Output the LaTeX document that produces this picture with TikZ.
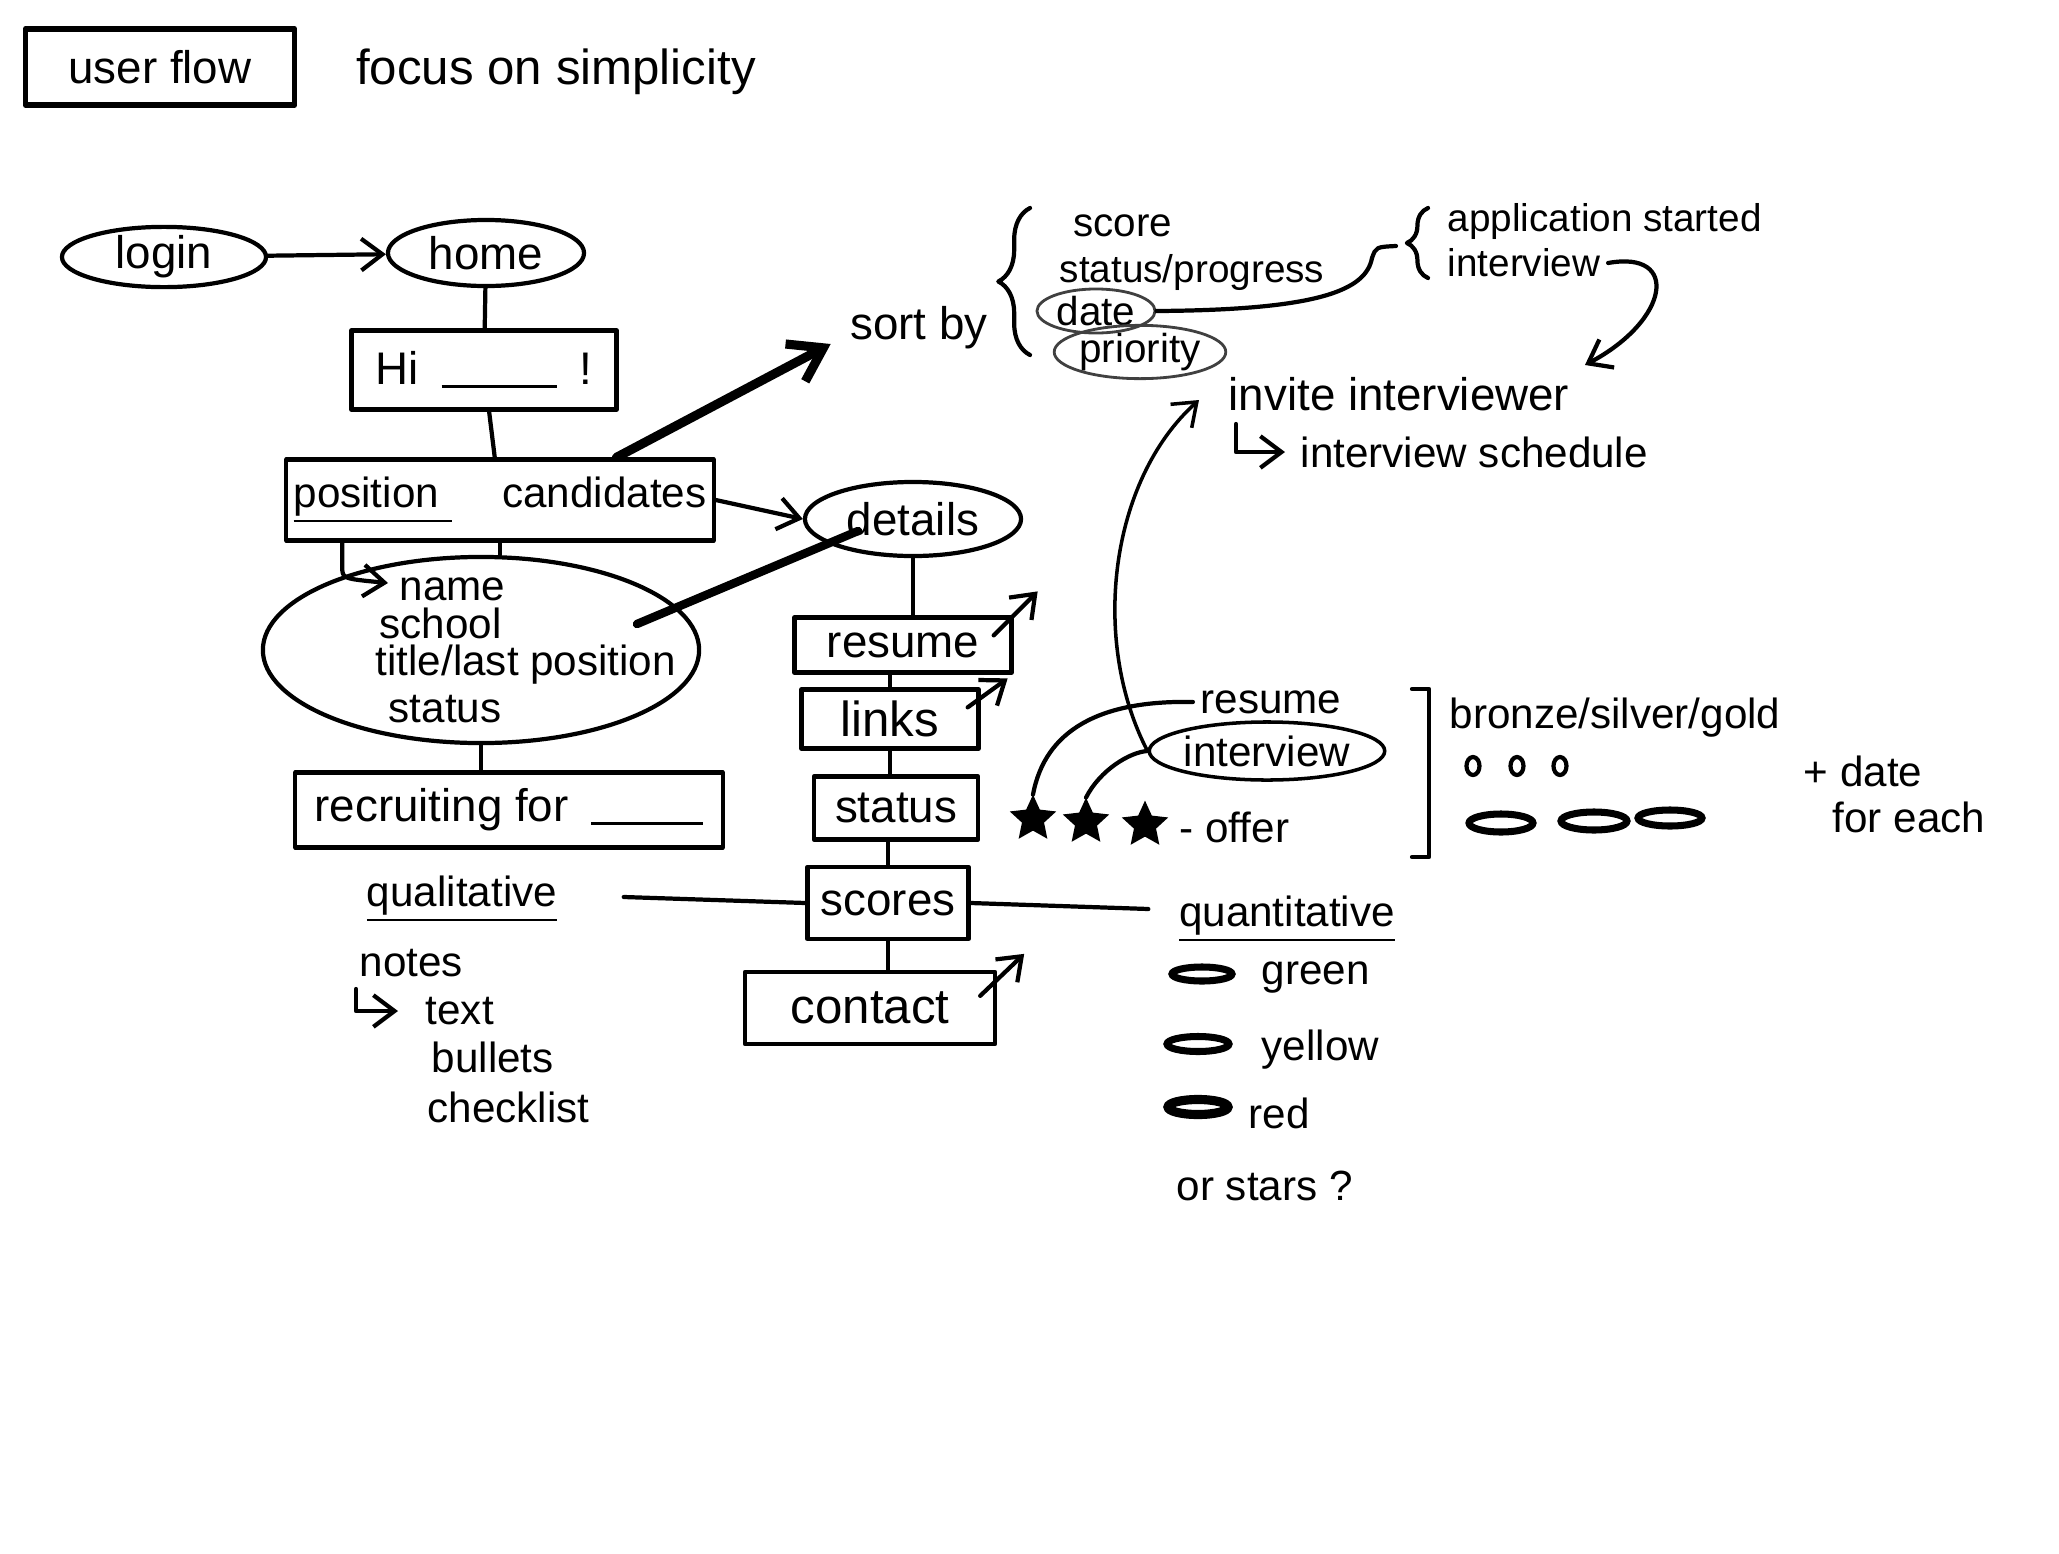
\documentclass[tikz,border=0pt]{standalone}
\usepackage{fontspec}
\setmainfont{Liberation Sans}
\usetikzlibrary{arrows.meta,shapes.geometric,calc,decorations.pathreplacing}
\begin{document}
\begin{tikzpicture}[x=0.01cm,y=-0.01cm,
  every node/.style={font=\fontsize{12}{14}\selectfont, inner sep=2pt},
  fs/.style={font=\fontsize{#1}{#1}\selectfont},
  ink/.style={line width=1.2pt,line cap=round,line join=round},
  box/.style={draw,ink,rectangle,inner sep=0pt},
  oval/.style={draw,ink,ellipse,inner sep=0pt},
  faint/.style={draw=black!75,line width=0.8pt,ellipse,inner sep=0pt},
  barb/.style={ink,-{Straight Barb[length=6pt,width=9pt]}},
  heavy/.style={line width=2.6pt,line cap=round,-{Straight Barb[length=9pt,width=12pt]}},
  heavyline/.style={line width=2.4pt,line cap=round},
  pill/.style={draw,ellipse,line width=2pt,inner sep=0pt},
  dot/.style={draw,ellipse,ink,minimum width=0.13cm,minimum height=0.18cm,inner sep=0pt},
  starmark/.style={star,star points=5,star point ratio=2.1,fill=black,draw,line width=0.8pt,minimum size=0.42cm,inner sep=0pt}]

\useasboundingbox (0,0) rectangle (2059,1554);

% title
\node[box, line width=1.6pt, minimum width=2.69cm, minimum height=0.76cm, fs=13] (title) at (160,67) {user flow};
\node[fs=14] (focus) at (556,72) {focus on simplicity};

% top flow
\node[oval, minimum width=2.04cm, minimum height=0.58cm, fs=13] (login) at (164,257) {login};
\node[oval, minimum width=1.96cm, minimum height=0.66cm, fs=13] (home) at (486,253) {home};
\draw[barb] (login) -- (home);

\node[box, minimum width=2.65cm, minimum height=0.79cm, fs=13] (hi) at (484,370) {Hi\enspace\rule[-1pt]{1.15cm}{1pt}\enspace!};
\draw[ink] (home) -- (hi);

\node[box, minimum width=4.27cm, minimum height=0.81cm] (pos) at (500,500) {\underline{position\hspace{0.3em}}\hspace{1.2em}candidates};
\draw[ink] (hi) -- (pos);

% sort by
\node[fs=13] (sortby) at (919,328) {sort by};
\coordinate (sortstart) at ($(pos.north west)!0.77!(pos.north east)$);
\draw[heavy] (sortstart) -- ($(sortby.west)+(-12,16)$);

\draw[ink,decorate,decoration={brace,amplitude=9pt}] (1030,355) -- (1030,208);
\node[fs=11.5] (score) at (1123,226) {score};
\node[fs=11] (status1) at (1192,272) {status/progress};
\node[faint, minimum width=1.18cm, minimum height=0.44cm, fs=11.5] (date) at (1096,311) {date};
\node[faint, minimum width=1.6cm, minimum height=0.46cm, fs=11.5] (prio) at (1140,352) {priority};

\draw[ink] (date.east) .. controls (1320,310) and (1366,290) .. (1372,258) .. controls (1376,247) .. (1396,246);
\draw[ink,decorate,decoration={brace,amplitude=6pt}] (1428,278) -- (1428,208);
\node[anchor=west, fs=11] (appstart) at (1440,221) {application started};
\node[anchor=west, fs=11] (int1) at (1440,263) {interview};
\draw[barb] (int1.east) .. controls (1680,250) and (1670,320) .. (1585,365);

\node[anchor=west, fs=13] (invite) at (1221,394) {invite interviewer};
\node[anchor=west] (sched) at (1293,452) {interview schedule};
\draw[barb] ($(sched.west)+(-57,-28)$) -- ($(sched.west)+(-57,0)$) -- ($(sched.west)+(-8,0)$);

% details
\node[oval, minimum width=2.16cm, minimum height=0.74cm, fs=13] (details) at (913,519) {details};
\draw[barb] (pos.east) -- (details.west);

% candidate fields
\node[oval, minimum width=4.36cm, minimum height=1.86cm] (cand) at (481,650) {};
\node[anchor=west] (fname) at (392,589) {name};
\node[anchor=west] (fschool) at (372,623) {school};
\node[anchor=west] (ftitle) at (368,665) {title/last position};
\node[anchor=west] (fstatus) at (381,709) {status};
\draw[ink] (pos.south) -- (pos.south |- cand.north);
\draw[barb] ($(pos.south west)+(58,0)$) -- ($(pos.south west)+(58,24)$) .. controls ($(pos.south west)+(58,36)$) .. ($(fname.west)+(-4,-6)$);
\draw[heavyline] ($(cand.center)+(156,-26)$) -- ($(details.center)+(-55,12)$);

\node[box, minimum width=4.27cm, minimum height=0.75cm, fs=13] (recruit) at (509,810) {recruiting for\enspace\rule[-1pt]{1.12cm}{1pt}};
\draw[ink] (cand.south) -- (cand.south |- recruit.north);

% middle column
\node[box, minimum width=2.17cm, minimum height=0.55cm, fs=13] (resume) at (903,645) {resume};
\node[box, minimum width=1.77cm, minimum height=0.59cm, fs=14] (links) at (890,719) {links};
\node[box, minimum width=1.64cm, minimum height=0.63cm, fs=13] (status) at (896,808) {status};
\node[box, minimum width=1.61cm, minimum height=0.72cm, fs=13] (scores) at (888,903) {scores};
\node[box, minimum width=2.5cm, minimum height=0.72cm, fs=14] (contact) at (870,1008) {contact};

\draw[ink] (details.south) -- (details.south |- resume.north);
\draw[ink] (links.north) -- (links.north |- resume.south);
\draw[ink] (links.south) -- (links.south |- status.north);
\draw[ink] (scores.north) -- (scores.north |- status.south);
\draw[ink] (scores.south) -- (scores.south |- contact.north);

\draw[barb] ($(resume.north east)+(-20,20)$) -- ($(resume.north east)+(24,-24)$);
\draw[barb] ($(links.north east)+(-13,20)$) -- ($(links.north east)+(27,-9)$);
\draw[barb] ($(contact.north east)+(-17,26)$) -- ($(contact.north east)+(27,-16)$);

% qualitative
\node (qual) at (462,899) {\underline{qualitative}};
\draw[ink] ($(qual.east)+(59,-2)$) -- (scores.west);
\node[anchor=west] (notes) at (352,963) {notes};
\node[anchor=west] (ntext) at (418,1011) {text};
\node[anchor=west] (nbul) at (424,1057) {bullets};
\node[anchor=west] (nchk) at (420,1107) {checklist};
\draw[barb] ($(ntext.west)+(-62,-22)$) -- ($(ntext.west)+(-62,0)$) -- ($(ntext.west)+(-20,0)$);

% quantitative
\node (quant) at (1287,919) {\underline{quantitative}};
\draw[ink] (scores.east) -- ($(quant.west)+(-23,-10)$);
\node[pill, minimum width=0.6cm, minimum height=0.14cm] (p1) at (1202,974) {};
\node[pill, minimum width=0.62cm, minimum height=0.15cm] (p2) at (1198,1044) {};
\node[pill, line width=2.6pt, minimum width=0.6cm, minimum height=0.15cm] (p3) at (1198,1107) {};
\node[anchor=west] (green) at (1254,978) {green};
\node[anchor=west] (yellow) at (1254,1050) {yellow};
\node[anchor=west] (red) at (1241,1113) {red};
\node[anchor=west] (orstars) at (1169,1186) {or stars ?};

% stars
\node[starmark] (s1) at (1033,819) {};
\node[starmark] (s2) at (1086,822) {};
\node[starmark] (s3) at (1145,825) {};
\node[anchor=west] (offer) at (1172,827) {- offer};
\node (res2) at (1271,702) {resume};
\node[draw,ellipse,line width=1pt,inner sep=0pt, minimum width=2.1cm, minimum height=0.58cm] (int2) at (1267,751) {interview};
\draw[ink] (s1.north) .. controls (1045,730) and (1100,700) .. (res2.west);
\draw[ink] (s2.north) .. controls (1100,770) and (1130,752) .. (int2.west);
\draw[barb, line width=1pt] (int2.west) .. controls (1090,640) and (1110,480) .. ($(invite.west)+(-22,6)$);

% levels
\draw[ink] (1412,689) -- (1429,689) -- (1429,857) -- (1412,857);
\node (bsg) at (1615,718) {bronze/silver/gold};
\node[dot] (c1) at (1473,766) {};
\node[dot] (c2) at (1517,766) {};
\node[dot] (c3) at (1560,766) {};
\node[pill, minimum width=0.64cm, minimum height=0.18cm] (q1) at (1501,823) {};
\node[pill, minimum width=0.66cm, minimum height=0.18cm] (q2) at (1594,821) {};
\node[pill, minimum width=0.64cm, minimum height=0.16cm] (q3) at (1670,818) {};
\node[anchor=west] (pdate) at (1796,771) {+ date};
\node[anchor=west] (foreach) at (1825,817) {for each};
\end{tikzpicture}
\end{document}
